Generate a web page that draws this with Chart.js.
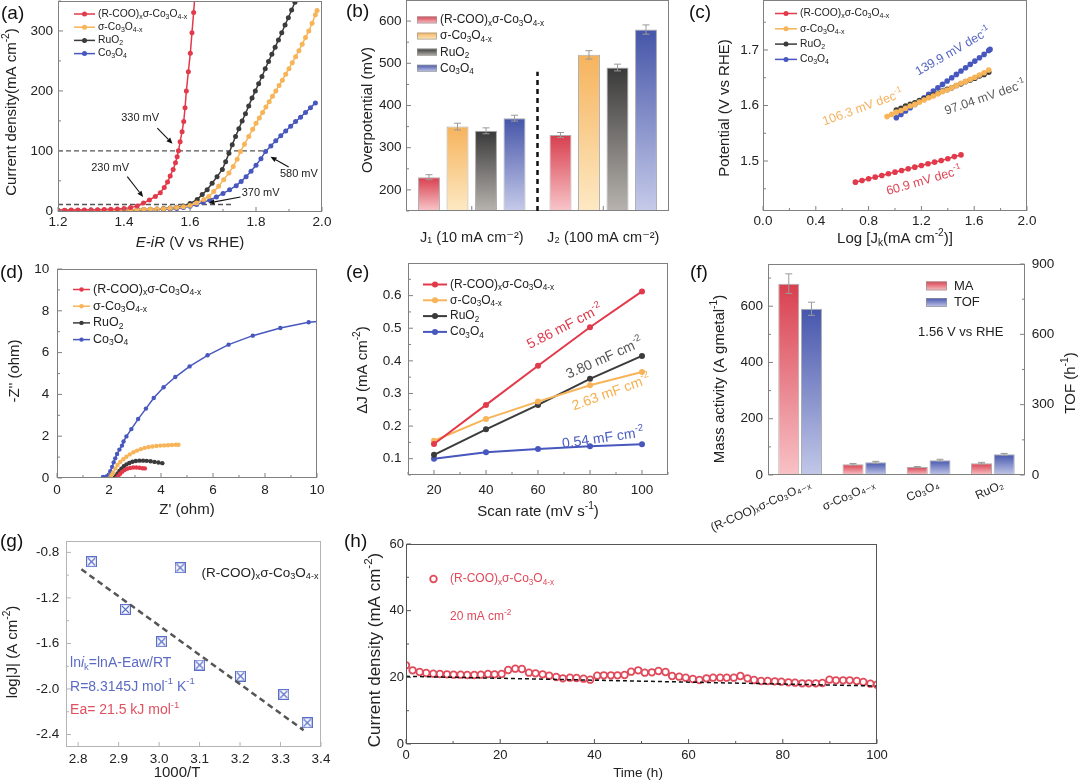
<!DOCTYPE html>
<html><head><meta charset="utf-8">
<script src="https://cdn.jsdelivr.net/npm/chart.js"></script>
<style>
html,body{margin:0;padding:0;background:#fff}
body{width:1080px;height:784px;position:relative;overflow:hidden;font-family:'Liberation Sans',Arial,sans-serif}
canvas{position:absolute}
.pl{position:absolute;font-size:19px;color:#111;line-height:1;z-index:5}
</style></head><body>
<div class="pl" style="left:1px;top:3px">(a)</div>
<div class="pl" style="left:346px;top:1px">(b)</div>
<div class="pl" style="left:689px;top:2px">(c)</div>
<div class="pl" style="left:0px;top:262px">(d)</div>
<div class="pl" style="left:346px;top:262px">(e)</div>
<div class="pl" style="left:690px;top:262px">(f)</div>
<div class="pl" style="left:0px;top:531px">(g)</div>
<div class="pl" style="left:344px;top:531px">(h)</div>
<script>
// ---------------- DATA ----------------
// (a) LSV curves [E-iR (V), j (mA cm-2)]
const lsvRed = [[1.20,1.0],[1.22,1.1],[1.24,1.2],[1.26,1.3],[1.28,1.5],[1.30,1.7],[1.32,1.9],[1.34,2.2],[1.36,2.6],[1.38,3.1],[1.40,3.8],[1.42,5.3],[1.44,8],[1.459,13],[1.477,18],[1.495,24],[1.51,30],[1.522,39],[1.532,48],[1.54,58],[1.549,69],[1.556,80],[1.561,90],[1.565,100],[1.570,115],[1.576,132],[1.581,149],[1.585,172],[1.589,200],[1.595,232],[1.601,263],[1.606,297],[1.611,331],[1.615,360]];
const lsvOrange = [[1.20,0.4],[1.22,0.4],[1.24,0.5],[1.26,0.5],[1.28,0.6],[1.30,0.7],[1.32,0.8],[1.34,0.9],[1.36,1.0],[1.38,1.1],[1.40,1.3],[1.42,1.5],[1.44,1.8],[1.46,2.1],[1.48,2.5],[1.50,3.0],[1.52,3.6],[1.54,4.3],[1.56,5.3],[1.58,6.8],[1.60,9],[1.62,13],[1.642,19],[1.657,24],[1.672,32],[1.687,41],[1.702,52],[1.718,63],[1.731,74],[1.743,86],[1.753,99],[1.765,111],[1.778,124],[1.79,136],[1.80,146],[1.81,155],[1.82,164],[1.83,173],[1.84,182],[1.85,191],[1.86,200],[1.87,209],[1.88,218],[1.89,228],[1.90,237],[1.91,247],[1.92,257],[1.93,267],[1.94,278],[1.95,289],[1.96,300],[1.97,313],[1.98,327],[1.985,334]];
const lsvRuO2 = [[1.20,0.5],[1.22,0.5],[1.24,0.6],[1.26,0.6],[1.28,0.7],[1.30,0.8],[1.32,0.9],[1.34,1.0],[1.36,1.1],[1.38,1.3],[1.40,1.5],[1.42,1.7],[1.44,2.0],[1.46,2.3],[1.48,2.7],[1.50,3.2],[1.52,3.8],[1.54,4.6],[1.56,5.8],[1.58,8],[1.60,12],[1.622,19],[1.637,27],[1.652,35],[1.667,46],[1.682,57],[1.698,69],[1.708,82],[1.718,96],[1.728,110],[1.738,124],[1.748,137],[1.758,150],[1.768,162],[1.778,175],[1.788,188],[1.798,200],[1.808,212],[1.818,224],[1.828,237],[1.838,249],[1.848,261],[1.858,273],[1.868,285],[1.878,297],[1.888,310],[1.898,322],[1.908,335],[1.918,348],[1.922,354]];
const lsvCo3O4 = [[1.20,0.3],[1.22,0.3],[1.24,0.3],[1.26,0.4],[1.28,0.4],[1.30,0.5],[1.32,0.5],[1.34,0.6],[1.36,0.7],[1.38,0.8],[1.40,0.9],[1.42,1.0],[1.44,1.2],[1.46,1.4],[1.48,1.7],[1.50,2.0],[1.52,2.5],[1.54,3.1],[1.56,4.0],[1.58,5.3],[1.60,7.5],[1.62,10.5],[1.64,14],[1.66,18],[1.68,23],[1.70,29],[1.72,35],[1.74,42],[1.755,49],[1.77,57],[1.785,66],[1.80,76],[1.815,87],[1.829,99],[1.845,108],[1.86,117],[1.875,125],[1.89,133],[1.905,141],[1.92,149],[1.935,156],[1.95,164],[1.965,172],[1.98,180]];
const lsvRef100 = [[1.2,100],[1.835,100]];
const lsvRef10 = [[1.2,10.5],[1.733,10.5]];
const aXTicks = [1.2,1.4,1.6,1.8,2.0];
const aYTicks = [0,100,200,300];

// (b) overpotentials
const bCategories = ['J\u2081 (10 mA cm\u207B\u00B2)','J\u2082 (100 mA cm\u207B\u00B2)'];
const bSeries = ['(R-COO)_{x}σ-Co_{3}O_{4-x}','σ-Co_{3}O_{4-x}','RuO_{2}','Co_{3}O_{4}'];
const bValues = [[230,330],[350,520],[340,490],[370,580]];
const bErrors = [[6,6],[8,10],[7,8],[7,11]];
const bYTicks = [200,300,400,500,600];

// (c) Tafel [log Jk, potential]
const tafelRed = [[0.70,1.462],[0.75,1.465],[0.80,1.468],[0.85,1.471],[0.90,1.474],[0.95,1.477],[1.00,1.480],[1.05,1.483],[1.10,1.486],[1.15,1.489],[1.20,1.492],[1.25,1.495],[1.30,1.498],[1.35,1.501],[1.40,1.504],[1.45,1.508],[1.50,1.511]];
const tafelOrange = [[0.94,1.580],[0.975,1.584],[1.01,1.588],[1.045,1.591],[1.08,1.595],[1.115,1.599],[1.15,1.602],[1.185,1.606],[1.22,1.610],[1.255,1.614],[1.29,1.617],[1.325,1.621],[1.36,1.625],[1.395,1.628],[1.43,1.632],[1.465,1.636],[1.50,1.640],[1.535,1.643],[1.57,1.647],[1.605,1.651],[1.64,1.655],[1.675,1.659],[1.71,1.664]];
const tafelRuO2 = [[1.01,1.592],[1.045,1.595],[1.08,1.599],[1.115,1.602],[1.15,1.605],[1.185,1.609],[1.22,1.612],[1.255,1.615],[1.29,1.619],[1.325,1.622],[1.36,1.626],[1.395,1.629],[1.43,1.632],[1.465,1.636],[1.50,1.639],[1.535,1.643],[1.57,1.646],[1.605,1.649],[1.64,1.653],[1.675,1.656],[1.71,1.660]];
const tafelCo3O4 = [[1.01,1.578],[1.045,1.584],[1.08,1.590],[1.115,1.596],[1.15,1.602],[1.185,1.608],[1.22,1.614],[1.255,1.620],[1.29,1.626],[1.325,1.632],[1.36,1.638],[1.395,1.644],[1.43,1.650],[1.465,1.656],[1.50,1.662],[1.535,1.668],[1.57,1.674],[1.605,1.680],[1.64,1.686],[1.675,1.692],[1.71,1.699],[1.72,1.701]];
const cXTicks = [0,0.4,0.8,1.2,1.6,2.0];
const cYTicks = [1.5,1.6,1.7];

// (d) Nyquist [Z', -Z'']
const eisRed = [[2.30,0.0],[2.36,0.10],[2.43,0.20],[2.51,0.30],[2.60,0.38],[2.70,0.44],[2.81,0.48],[2.93,0.50],[3.05,0.50],[3.17,0.49],[3.29,0.47],[3.38,0.46]];
const eisOrange = [[2.02,0.0],[2.08,0.12],[2.15,0.24],[2.24,0.45],[2.33,0.62],[2.43,0.77],[2.55,0.90],[2.67,1.02],[2.80,1.13],[2.94,1.23],[3.08,1.31],[3.22,1.38],[3.37,1.44],[3.52,1.48],[3.67,1.51],[3.82,1.53],[3.97,1.55],[4.12,1.56],[4.27,1.57],[4.42,1.58],[4.57,1.59],[4.67,1.59]];
const eisRuO2 = [[2.20,0.0],[2.26,0.10],[2.33,0.22],[2.40,0.34],[2.48,0.45],[2.57,0.56],[2.67,0.65],[2.78,0.72],[2.90,0.78],[3.03,0.81],[3.17,0.83],[3.31,0.83],[3.45,0.82],[3.60,0.80],[3.75,0.77],[3.90,0.74],[4.05,0.71]];
const eisCo3O4 = [[1.77,0.05],[1.90,0.08],[1.99,0.16],[2.05,0.32],[2.12,0.53],[2.18,0.75],[2.24,0.94],[2.31,1.15],[2.40,1.36],[2.50,1.55],[2.56,1.75],[2.67,1.99],[2.86,2.34],[3.12,2.82],[3.42,3.32],[3.72,3.83],[4.10,4.34],[4.55,4.83],[5.10,5.34],[5.79,5.87],[6.60,6.38],[7.53,6.81],[8.59,7.18],[9.68,7.45],[10.05,7.49]];
const dTicks = [0,2,4,6,8,10];

// (e) double-layer capacitance
const scanRates = [20,40,60,80,100];
const dlRed = [0.145,0.265,0.385,0.503,0.613];
const dlOrange = [0.155,0.222,0.275,0.325,0.366];
const dlRuO2 = [0.112,0.190,0.265,0.345,0.415];
const dlCo3O4 = [0.100,0.120,0.130,0.138,0.144];
const eYTicks = [0.1,0.2,0.3,0.4,0.5,0.6];

// (f) mass activity / TOF
const fCategories = ['(R-COO)\u2093σ-Co\u2083O\u2084\u208B\u2093','σ-Co\u2083O\u2084\u208B\u2093','Co\u2083O\u2084','RuO\u2082'];
const fMA = [680,38,28,42];
const fMAerr = [35,3,2,3];
const fTOF = [709,54,63,88];
const fTOFerr = [28,4,4,4];
const fYTicks = [0,200,400,600];
const fY2Ticks = [0,300,600,900];

// (g) Arrhenius [1000/T, log|J|]
const arrPoints = [[2.833,-0.882],[3.052,-0.935],[2.917,-1.301],[3.006,-1.585],[3.100,-1.790],[3.201,-1.887],[3.308,-2.048],[3.366,-2.297]];
const arrFit = [[2.808,-0.949],[3.357,-2.362]];
const gXTicks = [2.8,2.9,3.0,3.1,3.2,3.3,3.4];
const gYTicks = [-0.8,-1.2,-1.6,-2.0,-2.4];

// (h) stability [time h, current density]
const stability = [[0,23.6],[1.4,22.1],[2.9,21.6],[4.3,21.3],[5.8,21.1],[7.2,21.0],[8.7,20.9],[10.1,20.8],[11.6,20.8],[13.0,20.7],[14.5,20.7],[15.9,20.8],[17.4,21.0],[18.8,20.9],[20.3,21.0],[21.7,22.2],[23.2,22.6],[24.6,22.5],[26.1,21.4],[27.5,21.2],[29.0,20.9],[30.4,20.5],[31.9,20.1],[33.3,19.7],[34.8,19.9],[36.2,19.8],[37.7,19.6],[39.1,19.3],[40.6,20.5],[42.0,20.6],[43.5,20.6],[44.9,20.6],[46.4,20.7],[47.8,21.7],[49.3,22.1],[50.7,21.4],[52.2,21.5],[53.6,21.9],[55.1,21.6],[56.5,20.4],[58.0,20.2],[59.4,19.9],[60.9,19.5],[62.3,19.2],[63.8,19.7],[65.2,19.9],[66.7,19.9],[68.1,19.9],[69.6,19.9],[71.0,20.4],[72.5,19.7],[73.9,19.2],[75.4,18.9],[76.8,18.9],[78.3,18.8],[79.7,18.7],[81.2,18.5],[82.6,18.4],[84.1,18.2],[85.5,18.2],[87.0,18.2],[88.4,18.3],[89.9,19.3],[91.3,19.1],[92.8,19.1],[94.2,19.1],[95.7,18.9],[97.1,18.6],[98.6,18.1],[100,17.8]];
const stabBaseline = [[0,20.3],[100,17.4]];
const hXTicks = [0,20,40,60,80,100];
const hYTicks = [0,20,40,60];

// ---------------- STYLE / HELPERS ----------------
const FONT = "'Liberation Sans', 'DejaVu Sans', Arial, sans-serif";
const HFONT = FONT;

const RED='#e23a4b', ORG='#f7b458', BLK='#3b3b3b', BLU='#4757bd';
Chart.defaults.font.family = FONT;
Chart.defaults.color = '#222';
Chart.defaults.animation = false;
Chart.defaults.events = [];
Chart.defaults.plugins.legend.display = false;
Chart.defaults.plugins.tooltip.enabled = false;

function parseRich(s){const out=[];let i=0,buf='';const push=(t,m)=>{if(t)out.push({t,m});};
  while(i<s.length){const c=s[i];if((c==='_'||c==='^'||c==='*')&&s[i+1]==='{'){push(buf,'n');buf='';const j=s.indexOf('}',i+2);push(s.slice(i+2,j),c==='_'?'sub':c==='^'?'sup':'it');i=j+1;}else{buf+=c;i++;}}
  push(buf,'n');return out;}
function rf(m,size,fam){const sz=(m==='sub'||m==='sup')?size*0.68:size;return (m==='it'?'italic ':'')+sz+'px '+fam;}
function drawRich(ctx,s,x,y,o){o=o||{};const size=o.size||12,fam=o.family||FONT,parts=parseRich(s);
  ctx.save();ctx.translate(x,y);if(o.rot)ctx.rotate(o.rot*Math.PI/180);ctx.fillStyle=o.color||'#222';ctx.textBaseline='middle';ctx.textAlign='left';
  let w=0;for(const p of parts){ctx.font=rf(p.m,size,fam);w+=ctx.measureText(p.t).width;}
  let cx=o.align==='center'?-w/2:o.align==='right'?-w:0;
  for(const p of parts){ctx.font=rf(p.m,size,fam);const dy=p.m==='sub'?size*0.28:p.m==='sup'?-size*0.36:0;ctx.fillText(p.t,cx,dy);cx+=ctx.measureText(p.t).width;}
  ctx.restore();return w;}

const xy = arr => arr.map(([x,y])=>({x,y}));
function ser(arr,color,label,o){o=o||{};return {label,data:xy(arr),borderColor:color,backgroundColor:color,pointBackgroundColor:color,pointBorderWidth:0,pointRadius:o.r??2.5,borderWidth:o.lw??1.5,tension:0,showLine:o.line??true};}
function dashed(arr,color,w,dash){return {label:'',noLegend:true,data:xy(arr),borderColor:color,borderWidth:w,borderDash:dash,pointRadius:0,tension:0};}
const NOGRID={display:false,drawTicks:false,tickLength:0};
function linAxis(min,max,ticks,fmt,o){o=o||{};const a={type:'linear',min,max,grid:NOGRID,border:{display:false},
  afterBuildTicks:s=>{s.ticks=ticks.map(v=>({value:v}));},
  ticks:{callback:fmt,autoSkip:false,maxRotation:0,minRotation:0,padding:o.pad??4,color:'#222',font:{size:o.size||13.5,family:o.family||FONT}}};
  if(o.position)a.position=o.position;return a;}

function makeChart(g,build){
  const x0=g.l-g.ml,y0=g.t-g.mt,W=g.r-g.l+g.ml+g.mr,H=g.b-g.t+g.mt+g.mb;
  const cv=document.createElement('canvas');cv.width=W;cv.height=H;
  Object.assign(cv.style,{left:x0+'px',top:y0+'px',width:W+'px',height:H+'px'});
  document.body.appendChild(cv);
  const cfg=build({x:x0,y:y0});const o=cfg.options=cfg.options||{};
  o.responsive=false;o.maintainAspectRatio=false;o.animation=false;o.devicePixelRatio=1;
  o.layout={padding:{top:g.mt,right:g.rightAxis?0:g.mr,left:0,bottom:0}};
  const zero=sc=>{sc.paddingLeft=0;sc.paddingRight=0;sc.paddingTop=0;sc.paddingBottom=0;};
  for(const [k,s] of Object.entries(o.scales)){
    if(s.position==='right')s.afterFit=sc=>{sc.width=g.mr;zero(sc);};
    else if(k[0]==='x')s.afterFit=sc=>{sc.height=g.mb;zero(sc);};
    else s.afterFit=sc=>{sc.width=g.ml;zero(sc);};
  }
  return new Chart(cv,cfg);
}

function framePlugin(spec){return {id:'frame',afterDatasetsDraw(chart){
  const ctx=chart.ctx,a=chart.chartArea;ctx.save();ctx.strokeStyle=spec.color||'#808080';ctx.lineWidth=1;
  const L=Math.round(a.left)+0.5,T=Math.round(a.top)+0.5,R=Math.round(a.right)-0.5,B=Math.round(a.bottom)-0.5;
  ctx.strokeRect(L,T,R-L,B-T);
  for(const ax of spec.axes){const s=chart.scales[ax.id];if(!s)continue;
    const pos=s.ticks.map((t,i)=>s.getPixelForTick(i));let minor=[];
    if(ax.minor&&pos.length>1){for(let i=0;i<pos.length-1;i++)minor.push((pos[i]+pos[i+1])/2);
      const d=pos[1]-pos[0];minor.push(pos[0]-d/2,pos[pos.length-1]+d/2);}
    const hz=s.isHorizontal();
    const draw=(p,len)=>{ctx.beginPath();
      if(hz){if(p<a.left-0.5||p>a.right+0.5)return;ctx.moveTo(p,B);ctx.lineTo(p,B-len);}
      else{if(p<a.top-0.5||p>a.bottom+0.5)return;if(s.position==='right'){ctx.moveTo(R,p);ctx.lineTo(R-len,p);}else{ctx.moveTo(L,p);ctx.lineTo(L+len,p);}}
      ctx.stroke();};
    pos.forEach(p=>draw(p,4.5));minor.forEach(p=>draw(p,2.5));}
  ctx.restore();}};}

function legendPlugin(off,spec){return {id:'rlegend',afterDraw(chart){
  const ctx=chart.ctx;let y=spec.y-off.y;const x=spec.x-off.x;
  chart.data.datasets.forEach(ds=>{if(ds.noLegend)return;ctx.save();
    if(spec.kind==='line'){ctx.strokeStyle=ds.borderColor;ctx.lineWidth=spec.lw||1.5;ctx.beginPath();ctx.moveTo(x,y);ctx.lineTo(x+spec.len,y);ctx.stroke();
      ctx.fillStyle=ds.borderColor;ctx.beginPath();ctx.arc(x+spec.len/2,y,spec.r||2.5,0,2*Math.PI);ctx.fill();}
    else if(spec.kind==='ocircle'){ctx.strokeStyle=ds.pointBorderColor;ctx.lineWidth=1.8;ctx.fillStyle='#fff';ctx.beginPath();ctx.arc(x+spec.len/2,y,spec.r||3.3,0,2*Math.PI);ctx.fill();ctx.stroke();}
    else{const g=ctx.createLinearGradient(0,y-spec.h/2,0,y+spec.h/2);g.addColorStop(0,ds.gradTop);g.addColorStop(1,ds.gradBottom);
      ctx.fillStyle=g;ctx.fillRect(x,y-spec.h/2,spec.len,spec.h);ctx.strokeStyle='rgba(150,150,150,0.8)';ctx.lineWidth=0.8;ctx.strokeRect(x+0.5,y-spec.h/2+0.5,spec.len-1,spec.h-1);}
    ctx.restore();
    drawRich(ctx,ds.label,x+spec.len+spec.gap,y,{size:spec.size,color:spec.color||'#222',family:spec.family});
    y+=spec.dy;});}};}

function notesPlugin(notes,arrows,lines){return {id:'notes',afterDraw(chart){
  const ctx=chart.ctx;
  (lines||[]).forEach(l=>{const xs=chart.scales[l.xa||'x'],ys=chart.scales[l.ya||'y'];ctx.save();ctx.strokeStyle=l.color;ctx.lineWidth=l.w;ctx.setLineDash(l.dash||[]);
    ctx.beginPath();ctx.moveTo(xs.getPixelForValue(l.p[0][0]),ys.getPixelForValue(l.p[0][1]));ctx.lineTo(xs.getPixelForValue(l.p[1][0]),ys.getPixelForValue(l.p[1][1]));ctx.stroke();ctx.restore();});
  (arrows||[]).forEach(ar=>{const xs=chart.scales.x,ys=chart.scales.y;const x1=xs.getPixelForValue(ar[0][0]),y1=ys.getPixelForValue(ar[0][1]),x2=xs.getPixelForValue(ar[1][0]),y2=ys.getPixelForValue(ar[1][1]);
    const an=Math.atan2(y2-y1,x2-x1),hl=6,hw=2.6;ctx.save();ctx.strokeStyle='#111';ctx.fillStyle='#111';ctx.lineWidth=1.1;
    ctx.beginPath();ctx.moveTo(x1,y1);ctx.lineTo(x2-hl*Math.cos(an),y2-hl*Math.sin(an));ctx.stroke();
    ctx.beginPath();ctx.moveTo(x2,y2);ctx.lineTo(x2-hl*Math.cos(an)+hw*Math.sin(an),y2-hl*Math.sin(an)-hw*Math.cos(an));ctx.lineTo(x2-hl*Math.cos(an)-hw*Math.sin(an),y2-hl*Math.sin(an)+hw*Math.cos(an));ctx.closePath();ctx.fill();ctx.restore();});
  (notes||[]).forEach(n=>{const xs=chart.scales[n.xa||'x'],ys=chart.scales[n.ya||'y'];
    drawRich(ctx,n.t,xs.getPixelForValue(n.x),ys.getPixelForValue(n.y),{size:n.size||12,color:n.color||'#222',rot:n.rot||0,align:n.align||'center',family:n.family});});}};}

function titlesPlugin(off,titles){return {id:'titles',afterDraw(chart){
  titles.forEach(t=>drawRich(chart.ctx,t.t,t.x-off.x,t.y-off.y,{size:t.size||15,rot:t.rot||0,align:t.align||'center',color:t.color||'#222',family:t.family}));}};}

const errPlugin={id:'err',afterDatasetsDraw(chart){const ctx=chart.ctx;
  chart.data.datasets.forEach((ds,di)=>{if(!ds.errors)return;const meta=chart.getDatasetMeta(di);const ys=chart.scales[ds.yAxisID||'y'];
    meta.data.forEach((bar,i)=>{const v=ds.data[i],e=ds.errors[i];const y1=ys.getPixelForValue(v+e),y2=ys.getPixelForValue(v-e);
      ctx.save();ctx.strokeStyle='#9a9a9a';ctx.lineWidth=1;ctx.beginPath();ctx.moveTo(bar.x,y1);ctx.lineTo(bar.x,y2);
      ctx.moveTo(bar.x-3.5,y1);ctx.lineTo(bar.x+3.5,y1);ctx.moveTo(bar.x-3.5,y2);ctx.lineTo(bar.x+3.5,y2);ctx.stroke();ctx.restore();});});}};

function barGrad(top,bottom){return c=>{const ch=c.chart;if(!ch.chartArea||c.type!=='data')return top;
  const ys=ch.scales[c.dataset.yAxisID||'y'];const yt=ys.getPixelForValue(c.raw),yb=ys.getPixelForValue(ys.min);
  const g=ch.ctx.createLinearGradient(0,yt,0,yb);g.addColorStop(0,top);g.addColorStop(1,bottom);return g;};}

// ---------------- (a) ----------------
makeChart({l:58,t:1,r:322,b:212,ml:58,mt:12,mr:14,mb:40},off=>({
  type:'line',
  data:{datasets:[
    ser(lsvRed,RED,'(R-COO)_{x}σ-Co_{3}O_{4-x}'),
    ser(lsvOrange,ORG,'σ-Co_{3}O_{4-x}'),
    ser(lsvRuO2,BLK,'RuO_{2}'),
    ser(lsvCo3O4,BLU,'Co_{3}O_{4}'),
    dashed(lsvRef100,'#555',1.3,[5,3]),
    dashed(lsvRef10,'#555',1.3,[5,3])]},
  options:{scales:{x:linAxis(1.2,2.0,aXTicks,v=>v.toFixed(1),{pad:2}),y:linAxis(-2,350,aYTicks,v=>String(v),{pad:5})}},
  plugins:[framePlugin({axes:[{id:'x',minor:true},{id:'y',minor:true}]}),
    legendPlugin(off,{kind:'line',x:74,y:14,dy:13.2,len:21,gap:3,size:10.3,r:2.5}),
    notesPlugin([{t:'330 mV',x:1.449,y:155,size:11},{t:'230 mV',x:1.358,y:72,size:11},{t:'370 mV',x:1.814,y:30,size:11},{t:'580 mV',x:1.93,y:62,size:11}],
      [[[1.501,138],[1.547,112]],[[1.41,57],[1.458,23]],[[1.753,23],[1.656,13]],[[1.899,73],[1.844,90]]]),
    titlesPlugin(off,[{t:'Current density(mA cm^{-2})',x:12,y:112,rot:-90,size:15},{t:'*{E-iR} (V vs RHE)',x:190,y:243,size:15}])]
}));

// ---------------- (b) ----------------
const bGrad=[['#d83e4d','#f8c6ca'],['#f6b35c','#fde9c4'],['#393939','#b8b3ae'],['#4555a8','#c6cbea']];
makeChart({l:406,t:0,r:669,b:211,ml:66,mt:12,mr:12,mb:40},off=>({
  type:'bar',
  data:{labels:bCategories,datasets:bSeries.map((s,i)=>({label:s,data:bValues[i],errors:bErrors[i],gradTop:bGrad[i][0],gradBottom:bGrad[i][1],
    backgroundColor:barGrad(bGrad[i][0],bGrad[i][1]),borderColor:'rgba(165,165,165,0.9)',borderWidth:1,categoryPercentage:0.867,barPercentage:0.77}))},
  options:{scales:{x:{type:'category',offset:true,grid:NOGRID,border:{display:false},ticks:{padding:18,color:'#222',font:{size:14.5,family:FONT}}},
    y:linAxis(150,650,bYTicks,v=>String(v),{pad:4.5})}},
  plugins:[errPlugin,framePlugin({axes:[{id:'y',minor:true},{id:'x'}]}),
    legendPlugin(off,{kind:'rect',x:417,y:20,dy:16.1,len:20,h:7,gap:3,size:12}),
    notesPlugin([],[],[{p:[[0.5,150],[0.5,480]],color:'#111',w:2.5,dash:[5,4]}]),
    titlesPlugin(off,[{t:'Overpotential (mV)',x:368,y:110,rot:-90,size:15}])]
}));

// ---------------- (c) ----------------
makeChart({l:763,t:0,r:1027,b:211,ml:63,mt:12,mr:15,mb:42},off=>({
  type:'line',
  data:{datasets:[
    ser(tafelRed,RED,'(R-COO)_{x}σ-Co_{3}O_{4-x}',{r:2.8}),
    ser(tafelOrange,ORG,'σ-Co_{3}O_{4-x}',{r:2.8}),
    ser(tafelRuO2,BLK,'RuO_{2}',{r:2.8}),
    ser(tafelCo3O4,BLU,'Co_{3}O_{4}',{r:2.8})]},
  options:{scales:{x:linAxis(0,2,cXTicks,v=>v.toFixed(1),{pad:2.6}),y:linAxis(1.41,1.79,cYTicks,v=>v.toFixed(1),{pad:4})}},
  plugins:[framePlugin({axes:[{id:'x',minor:true},{id:'y',minor:true}]}),
    legendPlugin(off,{kind:'line',x:775,y:13.5,dy:15.3,len:22,gap:3,size:10.3,r:2.5}),
    notesPlugin([{t:'139.9 mV dec^{-1}',x:1.44,y:1.697,rot:-30,color:'#5466c4',size:12.5},
      {t:'106.3 mV dec^{-1}',x:0.757,y:1.596,rot:-20,color:'#f4b25e',size:12.5},
      {t:'97.04 mV dec^{-1}',x:1.683,y:1.614,rot:-19,color:'#5a5a5a',size:12.5},
      {t:'60.9 mV dec^{-1}',x:1.22,y:1.464,rot:-16,color:'#e04658',size:12.5}]),
    titlesPlugin(off,[{t:'Potential (V vs RHE)',x:725,y:108,rot:-90,size:15},{t:'Log [J_{k}(mA cm^{-2})]',x:895,y:239,size:15}])]
}));

// ---------------- (d) ----------------
makeChart({l:57,t:269,r:317,b:478,ml:57,mt:10,mr:15,mb:40},off=>({
  type:'line',
  data:{datasets:[
    ser(eisRed,RED,'(R-COO)_{x}σ-Co_{3}O_{4-x}',{r:2.2}),
    ser(eisOrange,ORG,'σ-Co_{3}O_{4-x}',{r:2.2}),
    ser(eisRuO2,BLK,'RuO_{2}',{r:2.2}),
    ser(eisCo3O4,BLU,'Co_{3}O_{4}',{r:2.2})]},
  options:{scales:{x:linAxis(0,10,dTicks,v=>String(v),{pad:3.9}),y:linAxis(0,10,dTicks,v=>String(v),{pad:7.7})}},
  plugins:[framePlugin({axes:[{id:'x',minor:true},{id:'y',minor:true}]}),
    legendPlugin(off,{kind:'line',x:73,y:289.5,dy:16.7,len:17,gap:3,size:12.5,r:2.2}),
    titlesPlugin(off,[{t:"-Z'' (ohm)",x:15,y:371,rot:-90,size:15},{t:"Z' (ohm)",x:187,y:510,size:15}])]
}));

// ---------------- (e) ----------------
const pairs=(xs,ys)=>xs.map((x,i)=>[x,ys[i]]);
makeChart({l:408,t:263,r:668,b:475,ml:68,mt:10,mr:15,mb:45},off=>({
  type:'line',
  data:{datasets:[
    ser(pairs(scanRates,dlRed),RED,'(R-COO)_{x}σ-Co_{3}O_{4-x}',{r:3,lw:2}),
    ser(pairs(scanRates,dlOrange),ORG,'σ-Co_{3}O_{4-x}',{r:3,lw:2}),
    ser(pairs(scanRates,dlRuO2),BLK,'RuO_{2}',{r:3,lw:2}),
    ser(pairs(scanRates,dlCo3O4),BLU,'Co_{3}O_{4}',{r:3,lw:2})]},
  options:{scales:{x:linAxis(10,110,scanRates,v=>String(v),{pad:6.9}),y:linAxis(0.05,0.7,eYTicks,v=>v.toFixed(1),{pad:6.6})}},
  plugins:[framePlugin({axes:[{id:'x',minor:true},{id:'y',minor:true}]}),
    legendPlugin(off,{kind:'line',x:423,y:284.5,dy:15.8,len:24,gap:3,size:12,r:3,lw:2}),
    notesPlugin([{t:'5.86 mF cm^{-2}',x:70.3,y:0.504,rot:-27,color:'#e0394b',size:14},
      {t:'3.80 mF cm^{-2}',x:85.6,y:0.407,rot:-24,color:'#555',size:14},
      {t:'2.63 mF cm^{-2}',x:88.2,y:0.302,rot:-20,color:'#f5b04f',size:14},
      {t:'0.54 mF cm^{-2}',x:85,y:0.162,rot:-8,color:'#4a5cc0',size:14}]),
    titlesPlugin(off,[{t:'ΔJ (mA cm^{-2})',x:363,y:370,rot:-90,size:15},{t:'Scan rate (mV s^{-1})',x:538,y:512,size:15}])]
}));

// ---------------- (f) ----------------
const fRed=['#d8404f','#f8c2c6'],fBlue=['#4656ad','#c2c8e8'];
makeChart({l:768,t:264,r:1025,b:475,ml:80,mt:10,mr:55,mb:58,rightAxis:true},off=>({
  type:'bar',
  data:{labels:fCategories,datasets:[
    {label:'MA',data:fMA,errors:fMAerr,yAxisID:'y',gradTop:fRed[0],gradBottom:fRed[1],backgroundColor:barGrad(fRed[0],fRed[1]),borderColor:'rgba(165,165,165,0.9)',borderWidth:1,categoryPercentage:0.707,barPercentage:0.925},
    {label:'TOF',data:fTOF,errors:fTOFerr,yAxisID:'y2',gradTop:fBlue[0],gradBottom:fBlue[1],backgroundColor:barGrad(fBlue[0],fBlue[1]),borderColor:'rgba(165,165,165,0.9)',borderWidth:1,categoryPercentage:0.707,barPercentage:0.925}]},
  options:{scales:{x:{type:'category',offset:true,grid:NOGRID,border:{display:false},ticks:{padding:3,labelOffset:10,autoSkip:false,maxRotation:24,minRotation:24,color:'#222',font:{size:12,family:FONT}}},
    y:linAxis(0,750,fYTicks,v=>String(v),{pad:5}),
    y2:linAxis(0,900,fY2Ticks,v=>String(v),{pad:6.7,position:'right'})}},
  plugins:[errPlugin,framePlugin({axes:[{id:'y',minor:true},{id:'y2',minor:true}]}),
    legendPlugin(off,{kind:'rect',x:926,y:286,dy:16.5,len:21,h:9,gap:7,size:13}),
    notesPlugin([{t:'1.56 V vs RHE',x:2.5,y:610,xa:'x',ya:'y2',size:13}]),
    titlesPlugin(off,[{t:'Mass activity (A gmetal^{-1})',x:720,y:379,rot:-90,size:15},{t:'TOF (h^{-1})',x:1071,y:383,rot:-90,size:15}])]
}));

// ---------------- (g) ----------------
function boxX(color,size){const c=document.createElement('canvas');c.width=c.height=size;const x=c.getContext('2d');x.strokeStyle=color;x.lineWidth=1.2;
  x.strokeRect(0.6,0.6,size-1.2,size-1.2);x.beginPath();x.moveTo(2,2);x.lineTo(size-2,size-2);x.moveTo(size-2,2);x.lineTo(2,size-2);x.stroke();return c;}
const gMarker=boxX('#5a6ec8',11);
makeChart({l:66,t:541,r:321,b:747,ml:66,mt:10,mr:15,mb:37},off=>({
  type:'line',
  data:{datasets:[
    dashed(arrFit,'#555',2.5,[6,4]),
    Object.assign(ser(arrPoints,'#5a6ec8','pts',{line:false}),{pointStyle:gMarker,noLegend:true})]},
  options:{scales:{x:linAxis(2.77,3.4,gXTicks,v=>v.toFixed(1),{pad:4.2}),y:linAxis(-2.51,-0.70,gYTicks,v=>v.toFixed(1),{pad:6.7})}},
  plugins:[framePlugin({color:'#b4b4b4',axes:[{id:'x'},{id:'y',minor:true}]}),
    notesPlugin([{t:'(R-COO)_{x}σ-Co_{3}O_{4-x}',x:3.105,y:-0.98,align:'left',size:13.5},
      {t:'ln*{i}_{k}=lnA-Eaw/RT',x:2.78,y:-1.773,align:'left',size:14,color:'#5b6bc4'},
      {t:'R=8.3145J mol^{-1} K^{-1}',x:2.78,y:-1.981,align:'left',size:14,color:'#5b6bc4'},
      {t:'Ea= 21.5 kJ mol^{-1}',x:2.78,y:-2.186,align:'left',size:14,color:'#e0505f'}]),
    titlesPlugin(off,[{t:'log|J| (A cm^{-2})',x:13,y:652,rot:-90,size:15},{t:'1000/T',x:177,y:773,size:15}])]
}));

// ---------------- (h) ----------------
const RED2='#e04a5a';
makeChart({l:406,t:544,r:877,b:744,ml:46,mt:10,mr:20,mb:40},off=>({
  type:'line',
  data:{datasets:[
    dashed(stabBaseline,'#111',1.5,[4,3]),
    {label:'(R-COO)_{x}σ-Co_{3}O_{4-x}',data:xy(stability),showLine:false,pointStyle:'circle',pointRadius:3.3,pointBorderWidth:1.8,pointBorderColor:RED2,pointBackgroundColor:'#fff',borderColor:RED2}]},
  options:{scales:{x:linAxis(0,100,hXTicks,v=>String(v),{pad:3.2,size:13,family:HFONT}),y:linAxis(0,60,hYTicks,v=>String(v),{pad:2,size:13,family:HFONT})}},
  plugins:[framePlugin({color:'#555',axes:[{id:'x',minor:true},{id:'y',minor:true}]}),
    legendPlugin(off,{kind:'ocircle',x:428,y:579,dy:16,len:11,gap:11,size:12,family:HFONT,color:RED2,r:3.3}),
    titlesPlugin(off,[{t:'20 mA cm^{-2}',x:450,y:617,align:'left',size:12,family:HFONT,color:RED2},
      {t:'Current density (mA cm^{-2})',x:375,y:650,rot:-90,size:17,family:HFONT},{t:'Time (h)',x:638,y:773,size:13.5,family:HFONT}])]
}));
</script></body></html>
